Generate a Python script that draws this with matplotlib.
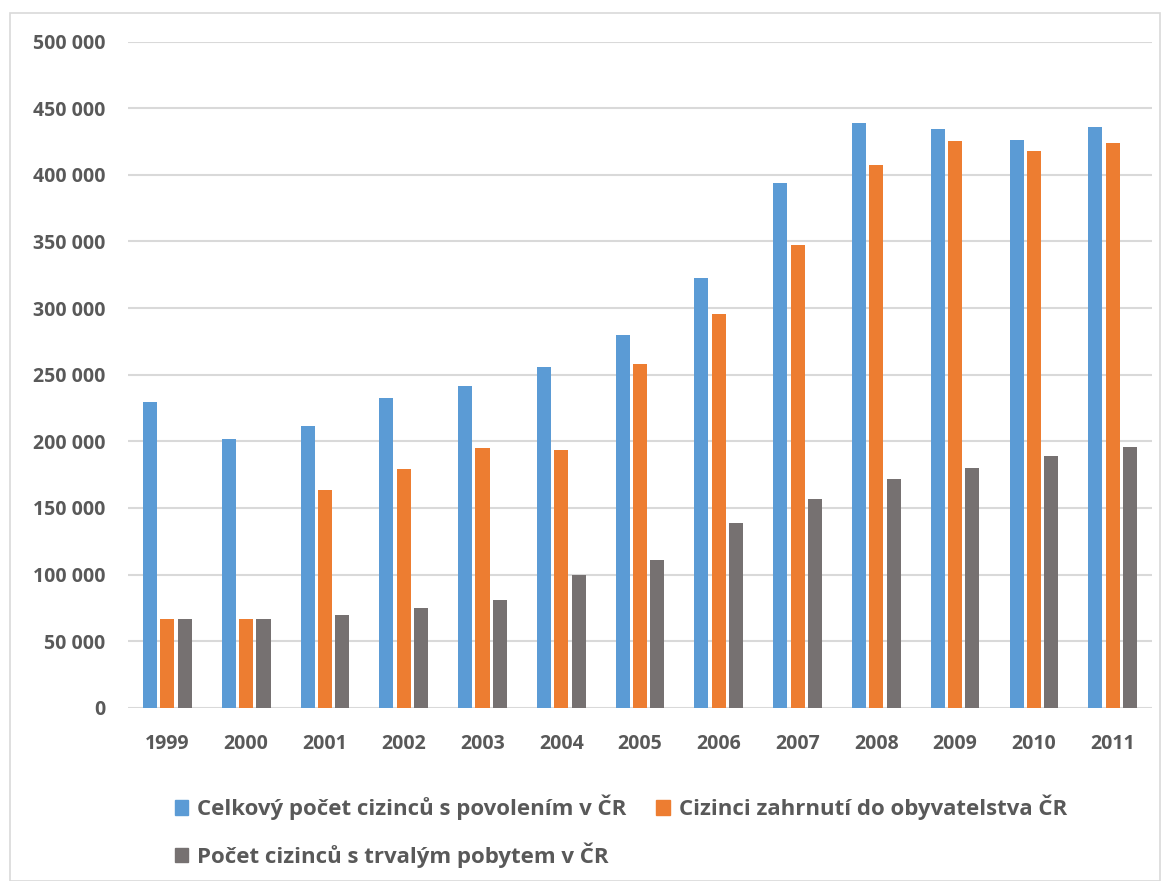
import matplotlib
matplotlib.use("Agg")
import matplotlib.pyplot as plt
import numpy as np
from matplotlib.patches import Rectangle, Patch
from matplotlib.ticker import FuncFormatter

years = ["1999", "2000", "2001", "2002", "2003", "2004", "2005",
         "2006", "2007", "2008", "2009", "2010", "2011"]
celkovy = [229700, 201700, 211700, 232500, 241700, 255500, 279600,
           322800, 393800, 439300, 434200, 426200, 436300]
zahrnuti = [66600, 66800, 163700, 179000, 195200, 193200, 258000,
            295800, 347100, 407400, 425600, 417600, 424100]
trvaly = [66600, 66800, 69600, 75100, 80600, 99400, 110600,
          138900, 156700, 171600, 179900, 188600, 196000]
series_names = ["Celkový počet cizinců s povolením v ČR",
                "Cizinci zahrnutí do obyvatelstva ČR",
                "Počet cizinců s trvalým pobytem v ČR"]
colors = ["#5b9bd5", "#ed7d31", "#767171"]

plt.rcParams["font.family"] = ["Open Sans", "DejaVu Sans"]
text_color = "#595959"

fig = plt.figure(figsize=(11.67, 8.81), dpi=100)
ax = fig.add_axes([0.1097, 0.1967, 0.8775, 0.7560])

x = np.arange(len(years))
width = 0.178
step = 0.22
for i, (vals, c) in enumerate(zip([celkovy, zahrnuti, trvaly], colors)):
    ax.bar(x + (i - 1) * step, vals, width=width, color=c, zorder=3)

ax.set_xlim(-0.5, len(years) - 0.5)
ax.set_ylim(0, 500000)
ax.set_yticks(np.arange(0, 500001, 50000))
ax.yaxis.set_major_formatter(FuncFormatter(
    lambda v, p: f"{int(v):,}".replace(",", " ")))
ax.set_xticks(x)
ax.set_xticklabels(years)
ax.grid(axis="y", color="#d9d9d9", linewidth=1.5, zorder=0)
for s in ax.spines.values():
    s.set_visible(False)
ax.tick_params(axis="both", length=0, labelcolor=text_color, labelsize=14)
ax.tick_params(axis="y", pad=16.5)
ax.tick_params(axis="x", pad=19)
for lab in ax.get_xticklabels() + ax.get_yticklabels():
    lab.set_fontweight("bold")

handles = [Patch(color=c) for c in colors]
order = [0, 2, 1]
leg = fig.legend([handles[i] for i in order], [series_names[i] for i in order],
                 ncol=2, loc="upper left", bbox_to_anchor=(0.1326, 0.1205),
                 frameon=False, handlelength=0.6, handleheight=0.6,
                 handletextpad=0.4, columnspacing=1.35, labelspacing=1.0,
                 prop={"weight": "bold", "size": 16})
for t in leg.get_texts():
    t.set_color(text_color)

fig.patches.append(Rectangle((10 / 1167, 0.0), 1150 / 1167, 1 - 13 / 881,
                             transform=fig.transFigure, fill=False,
                             edgecolor="#d9d9d9", linewidth=1.2))

fig.savefig("out.png", dpi=100)
